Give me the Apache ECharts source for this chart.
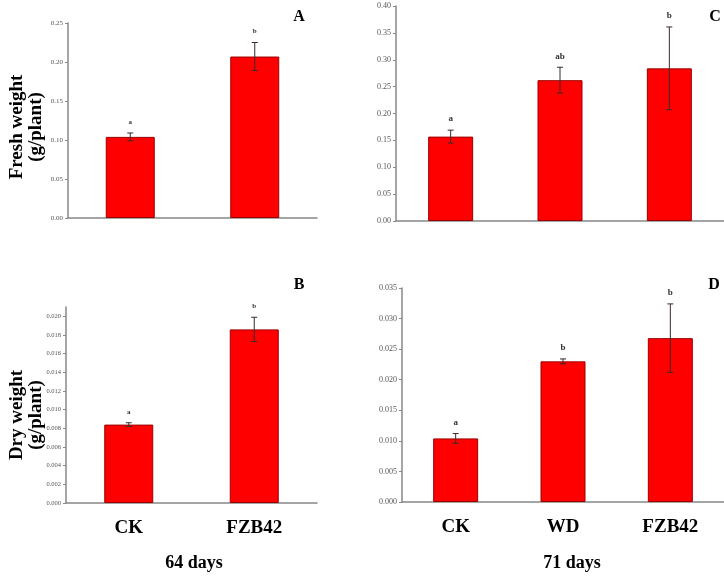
<!DOCTYPE html>
<html><head><meta charset="utf-8">
<script src="https://cdn.jsdelivr.net/npm/echarts@6/dist/echarts.min.js"></script>
<style>html,body{margin:0;padding:0;background:#fff}#c{width:724px;height:576px}</style>
</head><body><div id="c"></div>
<script>
const catsAB = ['CK', 'FZB42'];
const catsCD = ['CK', 'WD', 'FZB42'];

const freshA = [0.104, 0.207];
const freshAErr = [0.005, 0.018];
const freshASig = ['a', 'b'];

const freshC = [0.157, 0.262, 0.284];
const freshCErr = [0.012, 0.024, 0.077];
const freshCSig = ['a', 'ab', 'b'];

const dryB = [0.0084, 0.0186];
const dryBErr = [0.0002, 0.0013];
const dryBSig = ['a', 'b'];

const dryD = [0.0104, 0.0230, 0.0268];
const dryDErr = [0.0008, 0.0004, 0.0056];
const dryDSig = ['a', 'b', 'b'];

const ticksB = [0, 0.002, 0.004, 0.006, 0.008, 0.010, 0.012, 0.014, 0.016, 0.018, 0.020];

const SERIF = '"Liberation Serif", "DejaVu Serif", serif';
const chart = echarts.init(document.getElementById('c'));

function yAxis(gi, max, interval, dec, fs, custom) {
  const ax = {
    type: 'value', gridIndex: gi, min: 0, max: max,
    splitLine: { show: false },
    axisLine: { show: true, lineStyle: { color: '#888', width: 1.5 } },
    axisTick: { show: true, length: 3, lineStyle: { color: '#888' } },
    axisLabel: { fontSize: fs, color: '#555', fontFamily: SERIF, margin: 5,
      formatter: v => v.toFixed(dec) }
  };
  if (custom) {
    ax.axisLabel.customValues = custom;
    ax.axisTick.customValues = custom;
  } else {
    ax.interval = interval;
  }
  return ax;
}
function xAxis(gi, cats, showLabel) {
  return {
    type: 'category', gridIndex: gi, data: cats,
    axisTick: { show: false },
    axisLine: { lineStyle: { color: '#888', width: 1.5 } },
    axisLabel: { show: showLabel, fontSize: 19, fontWeight: 'bold', color: '#000', fontFamily: SERIF, margin: 16 }
  };
}
function barSeries(gi, vals, bw) {
  return { type: 'bar', xAxisIndex: gi, yAxisIndex: gi, data: vals, barWidth: bw,
    itemStyle: { color: '#ff0000', borderColor: '#9a0000', borderWidth: 1 }, z: 2 };
}
function errSeries(gi, vals, errs, sigs, fs) {
  const data = vals.map((v, i) => [i, v, errs[i], sigs[i]]);
  return {
    type: 'custom', xAxisIndex: gi, yAxisIndex: gi, data: data, z: 5,
    renderItem: function (params, api) {
      const x = api.value(0), m = api.value(1), e = api.value(2);
      const top = api.coord([x, m + e]);
      const bot = api.coord([x, m - e]);
      const cw = 3;
      const st = { stroke: '#3a2a2a', lineWidth: 1 };
      return { type: 'group', children: [
        { type: 'line', shape: { x1: top[0], y1: top[1], x2: bot[0], y2: bot[1] }, style: st },
        { type: 'line', shape: { x1: top[0] - cw, y1: top[1], x2: top[0] + cw, y2: top[1] }, style: st },
        { type: 'line', shape: { x1: bot[0] - cw, y1: bot[1], x2: bot[0] + cw, y2: bot[1] }, style: st },
        { type: 'text', style: { x: top[0], y: top[1] - 11, text: data[params.dataIndex][3],
          align: 'center', verticalAlign: 'middle', fill: '#333', fontSize: fs, fontWeight: 'bold', fontFamily: SERIF } }
      ] };
    }
  };
}
function txt(x, y, t, fs, rot) {
  return { type: 'text', x: x, y: y, rotation: rot || 0,
    style: { text: t, fontSize: fs, fontWeight: 'bold', fontFamily: SERIF, fill: '#000', align: 'center', verticalAlign: 'middle' } };
}

chart.setOption({
  animation: false,
  backgroundColor: '#fff',
  grid: [
    { left: 68, top: 23, width: 249, height: 195 },
    { left: 66, top: 307, width: 251, height: 196 },
    { left: 396, top: 6, width: 335, height: 215 },
    { left: 402, top: 288, width: 335, height: 214 }
  ],
  xAxis: [ xAxis(0, catsAB, false), xAxis(1, catsAB, true), xAxis(2, catsCD, false), xAxis(3, catsCD, true) ],
  yAxis: [
    yAxis(0, 0.25, 0.05, 2, 7),
    yAxis(1, 0.021, null, 3, 6.5, ticksB),
    yAxis(2, 0.40, 0.05, 2, 8),
    yAxis(3, 0.035, 0.005, 3, 8)
  ],
  series: [
    barSeries(0, freshA, 49), errSeries(0, freshA, freshAErr, freshASig, 7),
    barSeries(1, dryB, 49), errSeries(1, dryB, dryBErr, dryBSig, 7),
    barSeries(2, freshC, 45), errSeries(2, freshC, freshCErr, freshCSig, 9),
    barSeries(3, dryD, 45), errSeries(3, dryD, dryDErr, dryDSig, 9)
  ],
  graphic: [
    txt(17, 127, 'Fresh weight', 19, Math.PI / 2),
    txt(36, 127, '(g/plant)', 19, Math.PI / 2),
    txt(17, 415, 'Dry weight', 19, Math.PI / 2),
    txt(36, 415, '(g/plant)', 19, Math.PI / 2),
    txt(299, 17, 'A', 16), txt(299, 285, 'B', 16),
    txt(715, 17, 'C', 16), txt(714, 285, 'D', 16),
    txt(194, 563, '64 days', 18), txt(572, 563, '71 days', 18)
  ]
});
</script></body></html>
